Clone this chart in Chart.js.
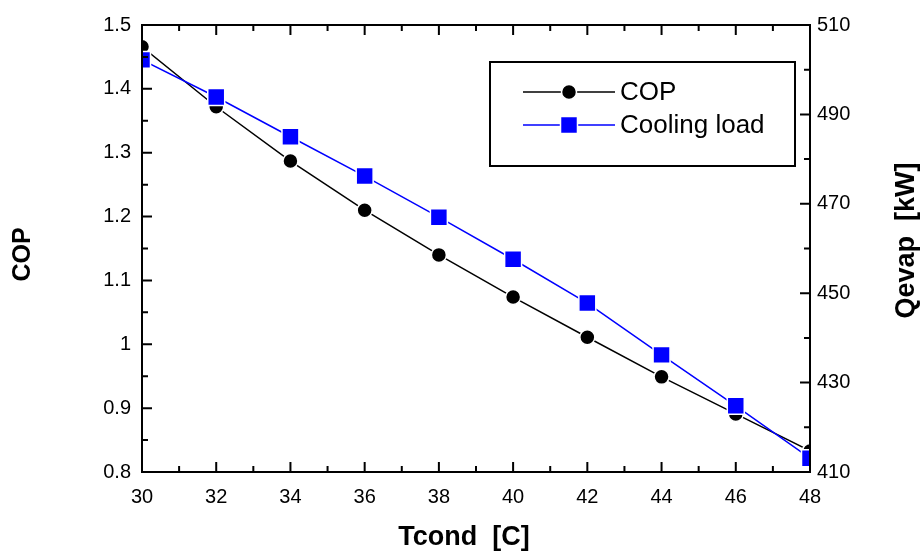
<!DOCTYPE html>
<html>
<head>
<meta charset="utf-8">
<script src="https://cdn.jsdelivr.net/npm/chart.js@4/dist/chart.umd.min.js"></script>
<style>
  html, body { margin: 0; padding: 0; background: #fff; }
  #wrap { width: 922px; height: 552px; position: relative; }
</style>
</head>
<body>
<div id="wrap"><canvas id="c"></canvas></div>
<script>
// condenser temperature [C]
const tcond = [30, 32, 34, 36, 38, 40, 42, 44, 46, 48];
// left axis
const cop = [1.466, 1.372, 1.287, 1.210, 1.140, 1.074, 1.011, 0.949, 0.891, 0.833];
// right axis, Qevap [kW]
const coolingLoad = [502.2, 493.9, 485.0, 476.2, 467.0, 457.6, 447.8, 436.2, 424.8, 413.1];
const seriesNames = ['COP', 'Cooling load'];
const axisTitles = { x: 'Tcond  [C]', y: 'COP', y2: 'Qevap  [kW]' };

const FONT = "'Liberation Sans', Arial, sans-serif";

// frame, inward ticks (major + minor), axis titles and the boxed legend
const frame = {
  id: 'frame',
  afterDatasetsDraw(chart) {
    const { ctx, chartArea: a } = chart;
    const x = chart.scales.x, yl = chart.scales.y, yr = chart.scales.y2;
    ctx.save();
    ctx.strokeStyle = '#000';
    ctx.lineWidth = 2;
    ctx.strokeRect(a.left, a.top, a.right - a.left, a.bottom - a.top);

    const MAJ = 10, MIN = 6;
    ctx.beginPath();
    const xt = x.ticks.map(t => t.value);
    xt.forEach((v, i) => {
      const px = x.getPixelForValue(v);
      ctx.moveTo(px, a.bottom); ctx.lineTo(px, a.bottom - MAJ);
      ctx.moveTo(px, a.top); ctx.lineTo(px, a.top + MAJ);
      if (i < xt.length - 1) {
        const pm = x.getPixelForValue((v + xt[i + 1]) / 2);
        ctx.moveTo(pm, a.bottom); ctx.lineTo(pm, a.bottom - MIN);
        ctx.moveTo(pm, a.top); ctx.lineTo(pm, a.top + MIN);
      }
    });
    const lt = yl.ticks.map(t => t.value);
    lt.forEach((v, i) => {
      const py = yl.getPixelForValue(v);
      ctx.moveTo(a.left, py); ctx.lineTo(a.left + MAJ, py);
      if (i < lt.length - 1) {
        const pm = yl.getPixelForValue((v + lt[i + 1]) / 2);
        ctx.moveTo(a.left, pm); ctx.lineTo(a.left + MIN, pm);
      }
    });
    const rt = yr.ticks.map(t => t.value);
    rt.forEach((v, i) => {
      const py = yr.getPixelForValue(v);
      ctx.moveTo(a.right, py); ctx.lineTo(a.right - MAJ, py);
      if (i < rt.length - 1) {
        const pm = yr.getPixelForValue((v + rt[i + 1]) / 2);
        ctx.moveTo(a.right, pm); ctx.lineTo(a.right - MIN, pm);
      }
    });
    ctx.stroke();

    // axis titles
    ctx.fillStyle = '#000';
    ctx.textAlign = 'center';
    ctx.textBaseline = 'middle';
    ctx.font = 'bold 27px ' + FONT;
    ctx.fillText(axisTitles.x, (a.left + a.right) / 2 - 12, a.bottom + 66);
    ctx.save();
    ctx.translate(a.left - 119, (a.top + a.bottom) / 2 + 6);
    ctx.rotate(-Math.PI / 2);
    ctx.font = 'bold 25px ' + FONT;
    ctx.fillText(axisTitles.y, 0, 0);
    ctx.restore();
    ctx.save();
    ctx.translate(a.right + 97, (a.top + a.bottom) / 2 - 8);
    ctx.rotate(-Math.PI / 2);
    ctx.font = 'bold 27px ' + FONT;
    ctx.fillText(axisTitles.y2, 0, 0);
    ctx.restore();

    // legend box
    const bx = a.right - 320, by = a.top + 37, bw = 305, bh = 104;
    ctx.strokeStyle = '#000';
    ctx.lineWidth = 2;
    ctx.strokeRect(bx, by, bw, bh);
    chart.data.datasets.forEach((ds, i) => {
      const ry = by + 30 + i * 33;
      const x0 = bx + 33, x1 = bx + 125, xm = (x0 + x1) / 2;
      ctx.strokeStyle = ds.borderColor;
      ctx.lineWidth = ds.borderWidth;
      ctx.beginPath();
      ctx.moveTo(x0, ry); ctx.lineTo(x1, ry);
      ctx.stroke();
      ctx.fillStyle = ds.pointBackgroundColor;
      ctx.strokeStyle = ds.pointBorderColor;
      ctx.lineWidth = ds.pointBorderWidth;
      Chart.helpers.drawPoint(ctx, {
        pointStyle: ds.pointStyle, radius: ds.pointRadius, borderWidth: ds.pointBorderWidth
      }, xm, ry);
      ctx.fillStyle = '#000';
      ctx.font = '26px ' + FONT;
      ctx.textAlign = 'left';
      ctx.textBaseline = 'middle';
      ctx.fillText(ds.label, x1 + 5, ry + 1);
    });
    ctx.restore();
  }
};

const tickFont = { family: FONT, size: 20 };

new Chart(document.getElementById('c').getContext('2d'), {
  type: 'line',
  data: {
    datasets: [
      {
        label: seriesNames[0],
        data: tcond.map((t, i) => ({ x: t, y: cop[i] })),
        yAxisID: 'y',
        borderColor: '#000',
        borderWidth: 1.5,
        pointStyle: 'circle',
        pointRadius: 7.5,
        pointBackgroundColor: '#000',
        pointBorderColor: '#fff',
        pointBorderWidth: 1.5,
        tension: 0,
        clip: 0,
        order: 2,
      },
      {
        label: seriesNames[1],
        data: tcond.map((t, i) => ({ x: t, y: coolingLoad[i] })),
        yAxisID: 'y2',
        borderColor: '#0000ff',
        borderWidth: 1.5,
        pointStyle: 'rect',
        pointRadius: 12,
        pointBackgroundColor: '#0000ff',
        pointBorderColor: '#fff',
        pointBorderWidth: 1.5,
        tension: 0,
        clip: 0,
        order: 1,
      },
    ],
  },
  options: {
    responsive: true,
    maintainAspectRatio: false,
    animation: false,
    layout: { padding: { top: 25, left: 0, right: 0, bottom: 0 } },
    plugins: { legend: { display: false }, tooltip: { enabled: false } },
    scales: {
      x: {
        type: 'linear',
        min: 30, max: 48,
        grid: { display: false, drawTicks: false },
        border: { display: false },
        ticks: { stepSize: 2, font: tickFont, color: '#000', padding: 13, maxRotation: 0 },
        afterFit: s => { s.height = 80; },
      },
      y: {
        position: 'left',
        min: 0.8, max: 1.5,
        grid: { display: false, drawTicks: false },
        border: { display: false },
        ticks: {
          stepSize: 0.1, font: tickFont, color: '#000', padding: 11,
          callback: v => String(Math.round(v * 10) / 10),
        },
        afterFit: s => { s.width = 142; },
      },
      y2: {
        position: 'right',
        min: 410, max: 510,
        grid: { display: false, drawTicks: false },
        border: { display: false },
        ticks: { stepSize: 20, font: tickFont, color: '#000', padding: 7 },
        afterFit: s => { s.width = 112; },
      },
    },
  },
  plugins: [frame],
});
</script>
</body>
</html>
